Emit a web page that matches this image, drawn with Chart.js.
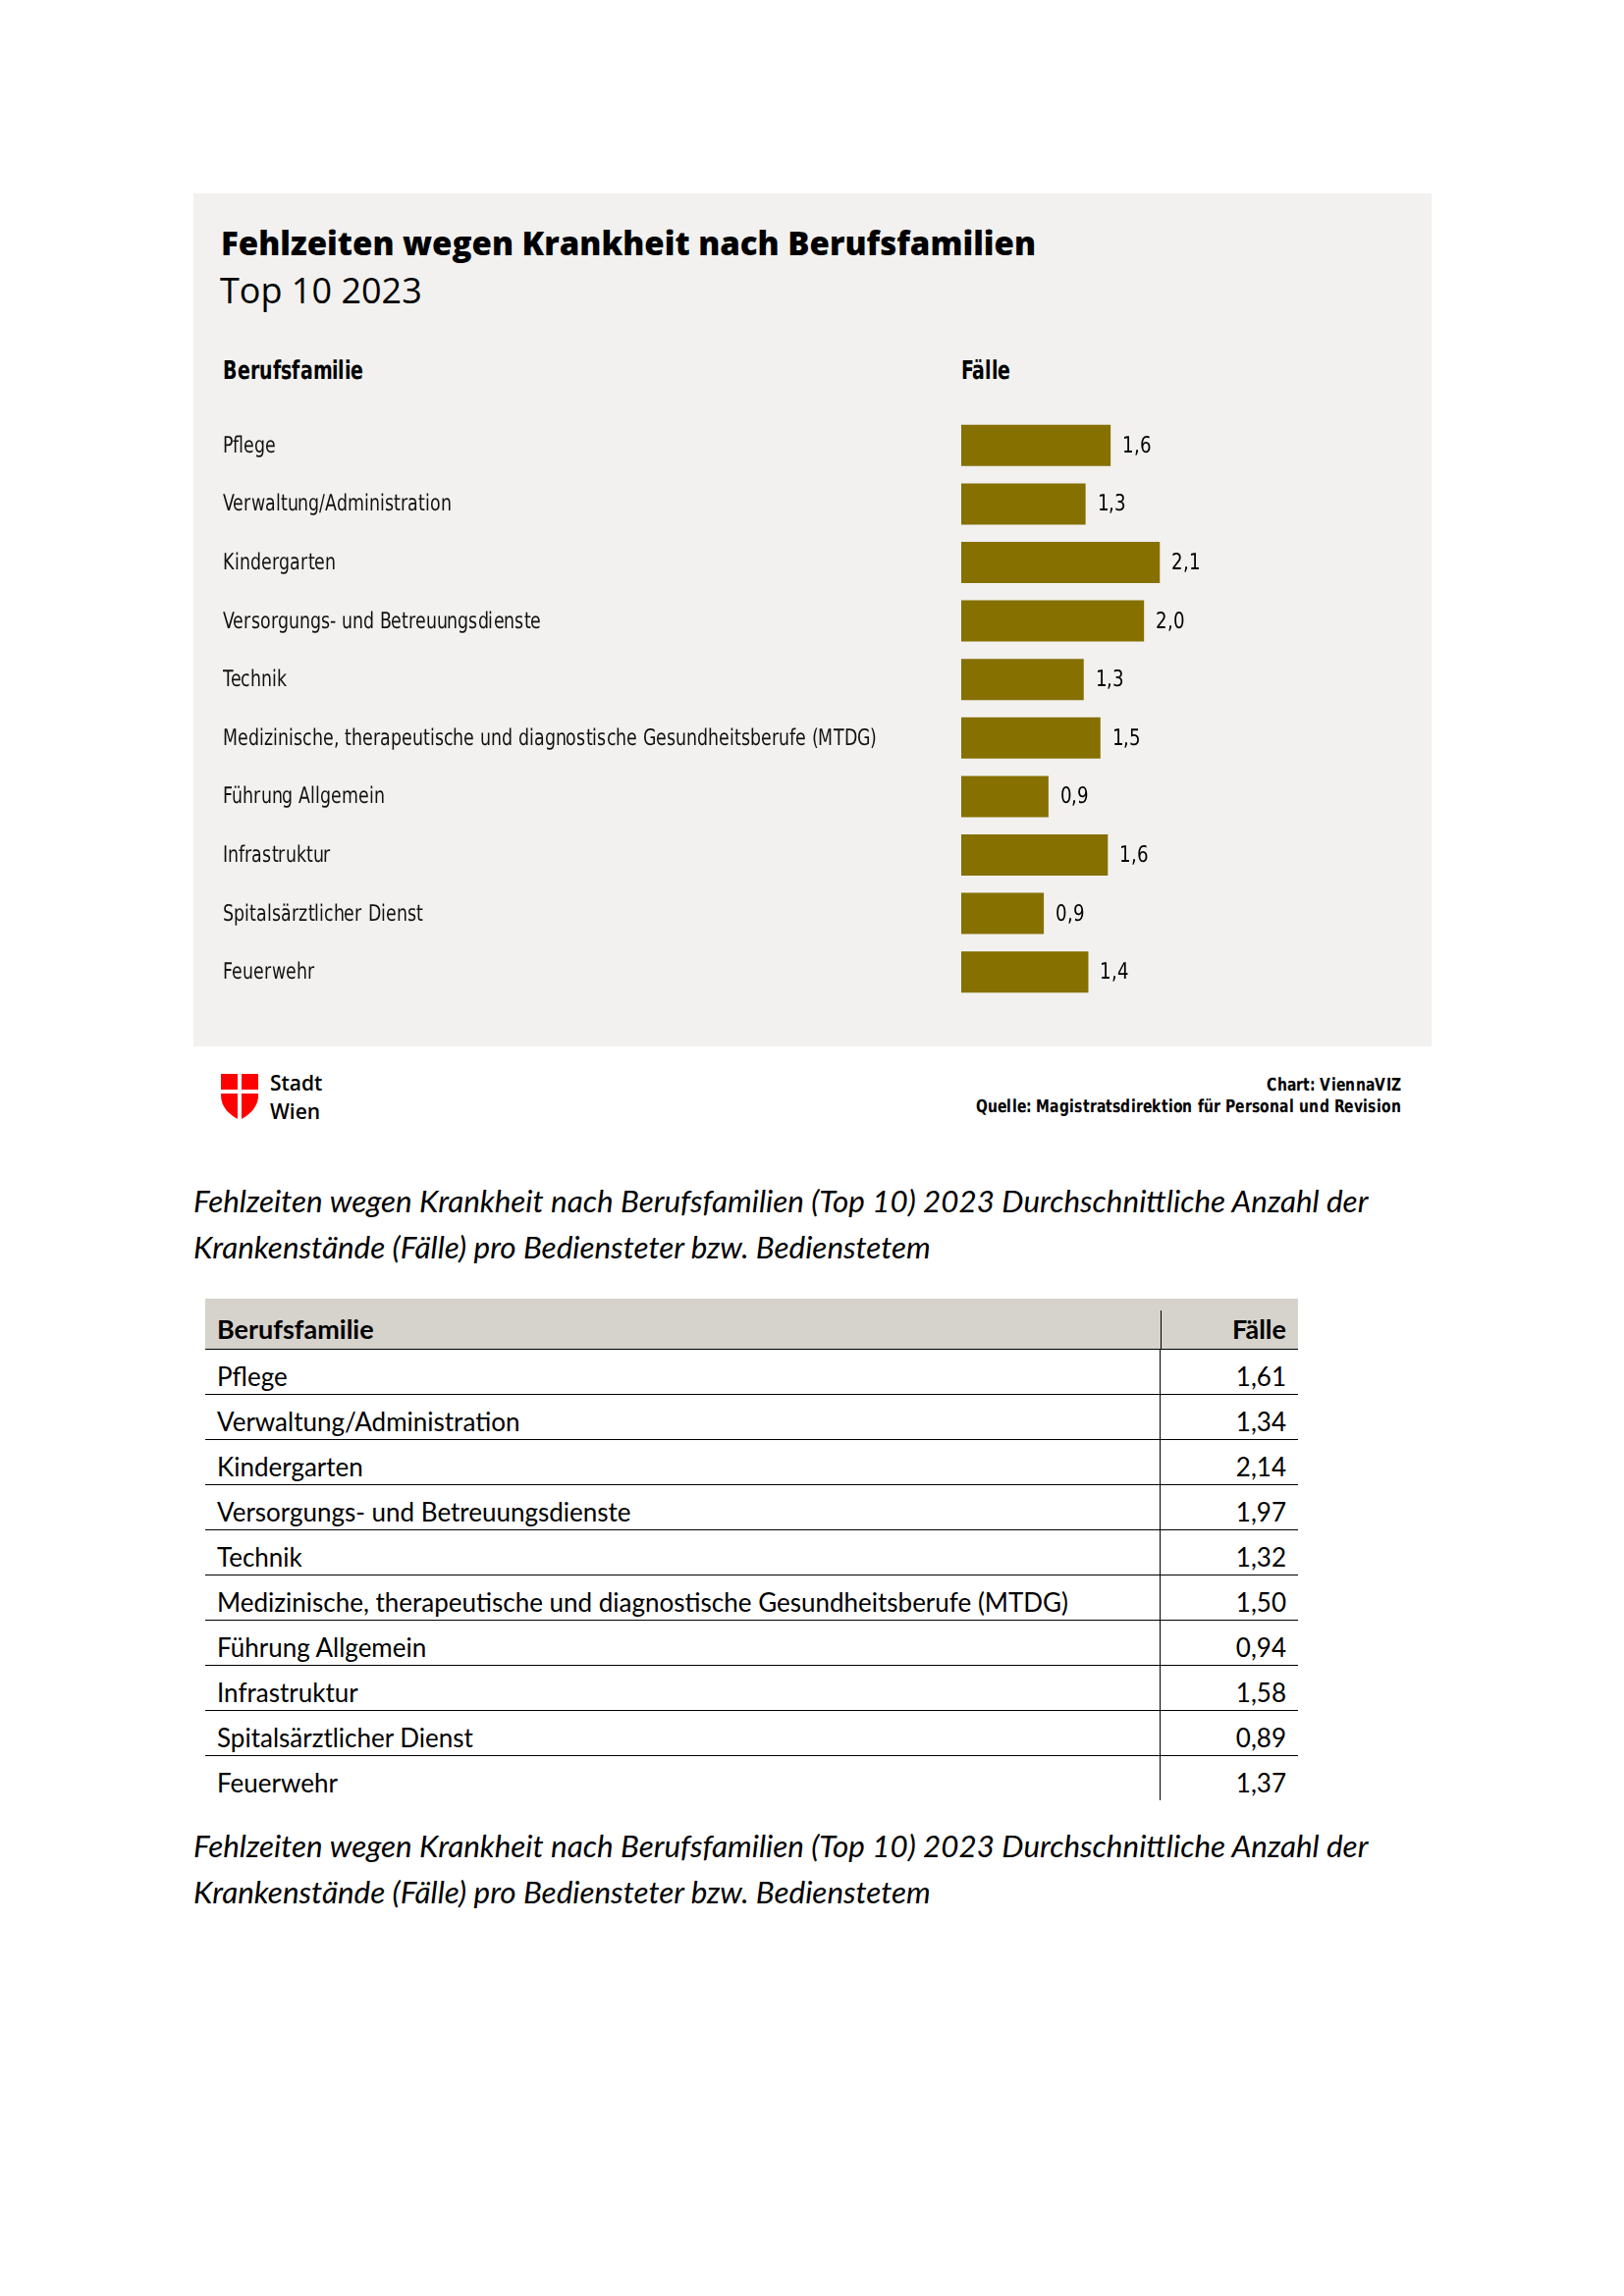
<!DOCTYPE html>
<html lang="de">
<head>
<meta charset="utf-8">
<title>Fehlzeiten wegen Krankheit nach Berufsfamilien</title>
<script src="https://cdn.jsdelivr.net/npm/chart.js@4.4.1/dist/chart.umd.min.js"></script>
<style>
  @font-face { font-family: "NarrowSans"; font-weight: 400;
    src: local("DejaVu Sans Condensed"), local("DejaVuSansCondensed"); }
  @font-face { font-family: "NarrowSans"; font-weight: 700;
    src: local("DejaVu Sans Condensed Bold"), local("DejaVuSansCondensed-Bold"); }
  html, body { margin: 0; padding: 0; background: #fff; }
  body { width: 1654px; height: 2339px; position: relative; color: #000; }
  .abs { position: absolute; white-space: nowrap; }
  #panel { position: absolute; left: 197px; top: 197px; width: 1261px; height: 869px; background: #f2f1ef; }
  .narrow { font-family: "NarrowSans", "DejaVu Sans", sans-serif; font-stretch: condensed; }
  .title { font-family: "Open Sans", sans-serif; font-weight: 800; font-size: 33px; line-height: 33px; }
  .subtitle { font-family: "Open Sans", sans-serif; font-weight: 400; font-size: 36px; line-height: 36px; }
  .colhead { font-weight: 700; font-size: 26px; line-height: 26px; transform: scaleX(0.81); transform-origin: left center; }
  .credit { font-weight: 700; font-size: 18px; line-height: 18px; text-align: right;
            transform: scaleX(0.86); transform-origin: right center; }
  .logo-text { font-family: "Open Sans", sans-serif; font-weight: 600; font-size: 21px; line-height: 29px; }
  .caption { font-family: "Lato", sans-serif; font-style: italic; font-size: 31.4px; line-height: 47px; }
  #tbl { position: absolute; left: 209px; top: 1323px; width: 1113px; border-collapse: collapse;
         font-family: "Lato", sans-serif; font-size: 26px; }
  #tbl td, #tbl th { padding: 0 12px 0 12px; }
  #tbl thead th { background: #d6d2cc; height: 47px; font-weight: 700; font-size: 27px;
                  border-bottom: 1.5px solid #000; vertical-align: bottom; padding-bottom: 4px; text-align: left; }
  #tbl thead th.val { text-align: right; position: relative; }
  #tbl thead th.val::before { content: ""; position: absolute; left: 0; top: 12px; bottom: 0; width: 1px; background: #000; }
  #tbl tbody td { height: 43px; border-bottom: 1px solid #000; vertical-align: bottom; padding-bottom: 2px; }
  #tbl tbody tr:last-child td { border-bottom: none; }
  #tbl td.val { text-align: right; border-left: 1px solid #000; width: 116px; }
</style>
</head>
<body>
<div id="panel"></div>
<div class="abs title" style="left:225px; top:231px;">Fehlzeiten wegen Krankheit nach Berufsfamilien</div>
<div class="abs subtitle" style="left:224px; top:278px;">Top 10 2023</div>
<div class="abs narrow colhead" style="left:227px; top:364px;">Berufsfamilie</div>
<div class="abs narrow colhead" style="left:979px; top:364px;">Fälle</div>

<canvas id="chart" width="1230" height="596" style="position:absolute; left:227px; top:424px;"></canvas>

<svg class="abs" style="left:225px; top:1094px;" width="38" height="47" viewBox="0 0 38 47">
  <path d="M0,0 H38 V22 C38,34 29,42 19,47 C9,42 0,34 0,22 Z" fill="#ff0000"/>
  <rect x="17" y="0" width="4" height="47" fill="#fff"/>
  <rect x="0" y="16" width="38" height="4" fill="#fff"/>
</svg>
<div class="abs logo-text" style="left:275px; top:1089px;">Stadt<br>Wien</div>
<div class="abs narrow credit" style="right:227px; top:1096px;">Chart: ViennaVIZ</div>
<div class="abs narrow credit" style="right:227px; top:1118px;">Quelle: Magistratsdirektion für Personal und Revision</div>

<div class="abs caption" style="left:197px; top:1200px;">Fehlzeiten wegen Krankheit nach Berufsfamilien (Top 10) 2023 Durchschnittliche Anzahl der<br>Krankenstände (Fälle) pro Bediensteter bzw. Bedienstetem</div>

<table id="tbl">
  <thead><tr><th>Berufsfamilie</th><th class="val">Fälle</th></tr></thead>
  <tbody></tbody>
</table>

<div class="abs caption" style="left:197px; top:1857px;">Fehlzeiten wegen Krankheit nach Berufsfamilien (Top 10) 2023 Durchschnittliche Anzahl der<br>Krankenstände (Fälle) pro Bediensteter bzw. Bedienstetem</div>

<script>
// Daten: Krankenstandsfälle pro Bediensteter/m, Top 10 Berufsfamilien 2023
const categories = [
    'Pflege',
    'Verwaltung/Administration',
    'Kindergarten',
    'Versorgungs- und Betreuungsdienste',
    'Technik',
    'Medizinische, therapeutische und diagnostische Gesundheitsberufe (MTDG)',
    'Führung Allgemein',
    'Infrastruktur',
    'Spitalsärztlicher Dienst',
    'Feuerwehr'
];
const faelle = [1.61, 1.34, 2.14, 1.97, 1.32, 1.50, 0.94, 1.58, 0.89, 1.37];
const xTicks = [0, 4];

const narrowFont = '"NarrowSans", "DejaVu Sans", sans-serif';
const fmt = (v, d) => v.toFixed(d).replace('.', ',');

// Tabelle unter dem Chart
const tbody = document.querySelector('#tbl tbody');
categories.forEach(function (c, i) {
    const tr = document.createElement('tr');
    tr.innerHTML = '<td></td><td class="val"></td>';
    tr.children[0].textContent = c;
    tr.children[1].textContent = fmt(faelle[i], 2);
    tbody.appendChild(tr);
});

// Text leicht schmaler zeichnen (die Vorlage nutzt eine Condensed-Schrift)
function narrowText(ctx, text, x, y, stretch) {
    ctx.save();
    ctx.translate(x, y);
    ctx.scale(stretch, 1);
    ctx.fillText(text, 0, 0);
    ctx.restore();
}

// Kategorienamen links, Position aus der y-Skala
const categoryLabels = {
    id: 'categoryLabels',
    afterDraw(chart) {
        const scale = chart.scales.y;
        const ctx = chart.ctx;
        ctx.save();
        ctx.font = '23px ' + narrowFont;
        ctx.fillStyle = '#111';
        ctx.textAlign = 'left';
        ctx.textBaseline = 'middle';
        categories.forEach(function (c, i) {
            narrowText(ctx, c, scale.left, scale.getPixelForTick(i) + 1, 0.84);
        });
        ctx.restore();
    }
};

// Wertbeschriftung rechts neben den Balken
const valueLabels = {
    id: 'valueLabels',
    afterDatasetsDraw(chart) {
        const ctx = chart.ctx;
        const meta = chart.getDatasetMeta(0);
        ctx.save();
        ctx.font = '23px ' + narrowFont;
        ctx.fillStyle = '#000';
        ctx.textAlign = 'left';
        ctx.textBaseline = 'middle';
        meta.data.forEach(function (bar, i) {
            narrowText(ctx, fmt(faelle[i], 1), bar.x + 12, bar.y + 1, 0.88);
        });
        ctx.restore();
    }
};

function drawChart() {
    new Chart(document.getElementById('chart'), {
        type: 'bar',
        data: {
            labels: categories,
            datasets: [{
                data: faelle,
                backgroundColor: '#857000',
                borderWidth: 0,
                barPercentage: 0.705,
                categoryPercentage: 1
            }]
        },
        options: {
            indexAxis: 'y',
            responsive: false,
            animation: false,
            layout: { padding: { left: 0, right: 100, top: 0, bottom: 0 } },
            plugins: {
                legend: { display: false },
                tooltip: { enabled: false }
            },
            scales: {
                x: {
                    display: false,
                    min: xTicks[0],
                    max: xTicks[1]
                },
                y: {
                    afterFit(scale) { scale.width = 752; },
                    grid: { display: false },
                    border: { display: false },
                    ticks: { display: false }
                }
            }
        },
        plugins: [categoryLabels, valueLabels]
    });
}

Promise.all([
    document.fonts.load('23px NarrowSans'),
    document.fonts.load('bold 23px NarrowSans')
]).then(drawChart, drawChart);
</script>
</body>
</html>
